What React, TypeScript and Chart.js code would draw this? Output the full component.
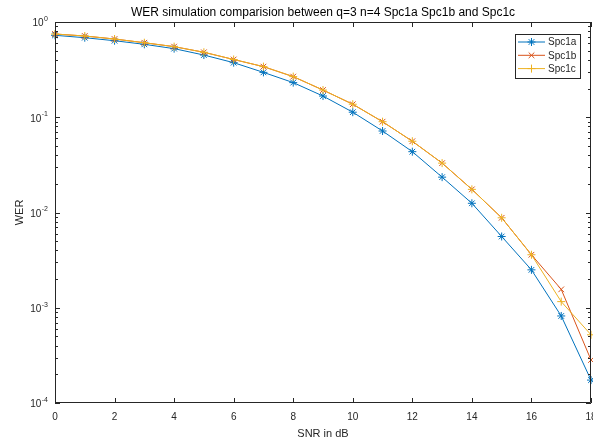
import React, { useEffect, useRef } from "react";
import { Chart, registerables } from "chart.js";

Chart.register(...registerables);

const SNR = [0, 1, 2, 3, 4, 5, 6, 7, 8, 9, 10, 11, 12, 13, 14, 15, 16, 17, 18];
const SPC1A = [0.725, 0.684, 0.636, 0.583, 0.525, 0.45, 0.374, 0.296, 0.231, 0.167, 0.113, 0.0717, 0.0435, 0.0235, 0.0125, 0.0056, 0.0025, 0.00082, 0.000174];
const SPC1B = [0.748, 0.713, 0.663, 0.606, 0.551, 0.481, 0.404, 0.34, 0.267, 0.193, 0.137, 0.0898, 0.056, 0.033, 0.0175, 0.0088, 0.0036, 0.00156, 0.000283];
const SPC1C = [0.748, 0.713, 0.663, 0.606, 0.551, 0.481, 0.404, 0.34, 0.267, 0.193, 0.137, 0.0898, 0.056, 0.033, 0.0175, 0.0088, 0.0036, 0.00116, 0.00052];
const SERIES_NAMES = ["Spc1a", "Spc1b", "Spc1c"];
const X_TICKS = [0, 2, 4, 6, 8, 10, 12, 14, 16, 18];
const Y_EXPONENTS = [0, -1, -2, -3, -4];
const TITLE = "WER simulation comparision between q=3 n=4 Spc1a Spc1b and Spc1c";
const X_TITLE = "SNR in dB";
const Y_TITLE = "WER";

const COLORS = ["#0072BD", "#D95319", "#EDB120"];
const STYLES = ["star", "crossRot", "cross"];
const AXIS = "#262626";
const FONT = "'Liberation Sans', Arial, sans-serif";

function drawMarker(ctx: CanvasRenderingContext2D, style: string, x: number, y: number, r: number) {
  ctx.beginPath();
  if (style === "cross" || style === "star") {
    ctx.moveTo(x - r, y);
    ctx.lineTo(x + r, y);
    ctx.moveTo(x, y - r);
    ctx.lineTo(x, y + r);
  }
  if (style === "crossRot" || style === "star") {
    const d = r * Math.SQRT1_2;
    ctx.moveTo(x - d, y - d);
    ctx.lineTo(x + d, y + d);
    ctx.moveTo(x - d, y + d);
    ctx.lineTo(x + d, y - d);
  }
  ctx.stroke();
}

const matlabAxes = {
  id: "matlabAxes",
  afterDatasetsDraw(chart: any) {
    const ctx: CanvasRenderingContext2D = chart.ctx;
    const { left, right, top, bottom } = chart.chartArea;
    const xs = chart.scales.x;
    const ys = chart.scales.y;
    ctx.save();
    ctx.strokeStyle = AXIS;
    ctx.lineWidth = 1;
    ctx.beginPath();
    ctx.rect(left + 0.5, top + 0.5, right - left - 1, bottom - top - 1);
    ctx.stroke();
    ctx.beginPath();
    for (const t of X_TICKS) {
      const px = Math.round(xs.getPixelForValue(t)) + 0.5;
      ctx.moveTo(px, bottom);
      ctx.lineTo(px, bottom - 5);
      ctx.moveTo(px, top);
      ctx.lineTo(px, top + 5);
    }
    for (const e of Y_EXPONENTS) {
      const py = Math.round(ys.getPixelForValue(Math.pow(10, e))) + 0.5;
      ctx.moveTo(left, py);
      ctx.lineTo(left + 5, py);
      ctx.moveTo(right, py);
      ctx.lineTo(right - 5, py);
      if (e < 0) {
        for (let m = 2; m <= 9; m++) {
          const my = Math.round(ys.getPixelForValue(m * Math.pow(10, e))) + 0.5;
          ctx.moveTo(left, my);
          ctx.lineTo(left + 3, my);
          ctx.moveTo(right, my);
          ctx.lineTo(right - 3, my);
        }
      }
    }
    ctx.stroke();

    ctx.fillStyle = AXIS;
    ctx.font = `10px ${FONT}`;
    ctx.textAlign = "center";
    ctx.textBaseline = "middle";
    for (const t of X_TICKS) {
      ctx.fillText(String(t), xs.getPixelForValue(t), bottom + 14);
    }
    for (const e of Y_EXPONENTS) {
      const py = ys.getPixelForValue(Math.pow(10, e));
      const sup = String(e);
      ctx.font = `7px ${FONT}`;
      const sw = ctx.measureText(sup).width;
      ctx.textAlign = "right";
      ctx.fillText(sup, left - 7, py - 3);
      ctx.font = `10px ${FONT}`;
      ctx.fillText("10", left - 7 - sw - 0.5, py + 1.5);
    }
    ctx.font = `11px ${FONT}`;
    ctx.textAlign = "center";
    ctx.fillText(X_TITLE, (left + right) / 2, bottom + 31);
    ctx.save();
    ctx.translate(20, (top + bottom) / 2);
    ctx.rotate(-Math.PI / 2);
    ctx.fillText(Y_TITLE, 0, 0);
    ctx.restore();
    ctx.font = `12px ${FONT}`;
    ctx.fillStyle = "#000000";
    ctx.fillText(TITLE, (left + right) / 2, 13);

    const lx = 515, ly = 34, lw = 65, lh = 44;
    ctx.fillStyle = "#ffffff";
    ctx.fillRect(lx, ly, lw, lh);
    ctx.strokeStyle = AXIS;
    ctx.strokeRect(lx + 0.5, ly + 0.5, lw, lh);
    ctx.font = `10px ${FONT}`;
    ctx.textAlign = "left";
    SERIES_NAMES.forEach((name, i) => {
      const yy = ly + 8 + i * 13.3;
      ctx.strokeStyle = COLORS[i];
      ctx.lineWidth = 1;
      ctx.beginPath();
      ctx.moveTo(lx + 3, yy);
      ctx.lineTo(lx + 30, yy);
      ctx.stroke();
      drawMarker(ctx, STYLES[i], lx + 16.5, yy, 4);
      ctx.fillStyle = AXIS;
      ctx.fillText(name, lx + 33, yy + 0.5);
    });
    ctx.restore();
  },
};

export default function App() {
  const ref = useRef<HTMLCanvasElement | null>(null);
  useEffect(() => {
    if (!ref.current) return;
    const series = [SPC1A, SPC1B, SPC1C];
    const chart = new Chart(ref.current, {
      type: "line",
      data: {
        datasets: series.map((vals, i) => ({
          label: SERIES_NAMES[i],
          data: SNR.map((x, j) => ({ x, y: vals[j] })),
          borderColor: COLORS[i],
          backgroundColor: COLORS[i],
          borderWidth: 1,
          pointStyle: STYLES[i] as any,
          pointRadius: 4,
          pointBorderWidth: 1,
          pointBorderColor: COLORS[i],
          pointHoverRadius: 4,
          tension: 0,
          fill: false,
          clip: false as any,
          order: 3 - i,
        })),
      },
      options: {
        responsive: false,
        animation: false,
        layout: { autoPadding: false, padding: { left: 55, right: 2, top: 22, bottom: 40 } },
        plugins: {
          legend: { display: false },
          title: { display: false },
          tooltip: { enabled: false },
        },
        scales: {
          x: { type: "linear", min: 0, max: 18, display: false },
          y: { type: "logarithmic", min: 1e-4, max: 1, display: false },
        },
      },
      plugins: [matlabAxes],
    });
    return () => chart.destroy();
  }, []);
  return (
    <div style={{ position: "absolute", left: 0, top: 0, width: 593, height: 443, background: "#fff", overflow: "hidden" }}>
      <canvas ref={ref} width={593} height={443} style={{ display: "block" }} />
    </div>
  );
}
